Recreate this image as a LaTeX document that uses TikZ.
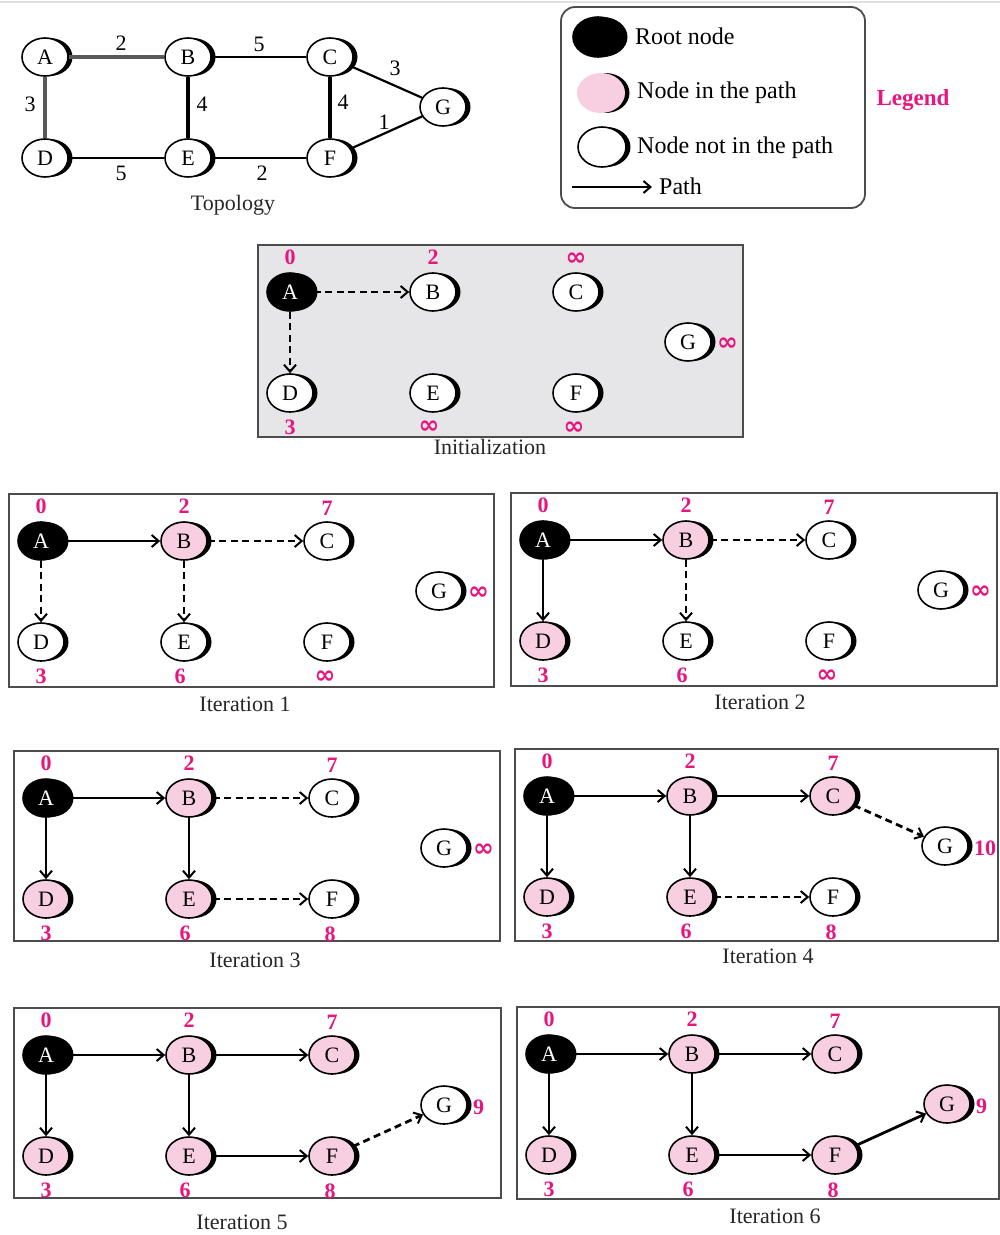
\documentclass[tikz,border=0pt]{standalone}
\usepackage{fontspec}
\setmainfont{Liberation Serif}
\newfontfamily\symfont{DejaVu Sans}
\usetikzlibrary{shapes.geometric,shadows,arrows.meta}

\definecolor{lblpink}{HTML}{E8157E}
\definecolor{pathpink}{HTML}{F7CFE0}
\definecolor{panelgray}{HTML}{E6E6E8}

\tikzset{
  vtx/.style={ellipse, draw=black, line width=1.6pt, minimum width=46pt,
    minimum height=38pt, inner sep=0pt, font=\fontsize{22}{24}\selectfont,
    drop shadow={shadow xshift=4.5pt, shadow yshift=0pt, fill=black, opacity=1}},
  wn/.style={vtx, fill=white},
  pn/.style={vtx, fill=pathpink},
  rn/.style={vtx, fill=black, text=white},
  lbl/.style={text=lblpink, inner sep=0pt, font=\fontsize{22}{24}\selectfont\bfseries},
  wt/.style={inner sep=0pt, font=\fontsize{22}{24}\selectfont},
  pathedge/.style={line width=2.8pt, -{Straight Barb[length=7pt,width=12pt,line width=2pt]}},
  cand/.style={pathedge, dash pattern=on 7pt off 4.5pt},
  frame/.style={draw=black!70, line width=2.4pt},
  caption/.style={inner sep=0pt, text=black!85, font=\fontsize{22}{24}\selectfont},
  legtext/.style={wt, anchor=west, font=\fontsize{24}{26}\selectfont},
}

% an unbounded distance, set in a heavier face
\newcommand\inftylabel{{\symfont\bfseries\fontsize{25}{26}\selectfont ∞}}

% the seven routers of one panel: prefix, then the style of A..G
\newcommand\sevennodes[8]{%
  \node[#2] (#1A) at (32,47) {A};
  \node[#3] (#1B) at (175,47) {B};
  \node[#4] (#1C) at (318,47) {C};
  \node[#5] (#1D) at (32,148) {D};
  \node[#6] (#1E) at (175,148) {E};
  \node[#7] (#1F) at (318,148) {F};
  \node[#8] (#1G) at (430,97) {G};
}
% the distance labels of one panel: prefix, then the values for A..G
\newcommand\distlabels[8]{%
  \node[lbl] (#1dA) at (32,12) {#2};
  \node[lbl] (#1dB) at (175,12) {#3};
  \node[lbl] (#1dC) at (318,14) {#4};
  \node[lbl] (#1dD) at (32,182) {#5};
  \node[lbl] (#1dE) at (171,182) {#6};
  \node[lbl] (#1dF) at (316,183) {#7};
  \node[lbl, anchor=west] (#1dG) at (459,99) {#8};
}

\begin{document}
\begin{tikzpicture}[x=1pt, y=-1pt]
\useasboundingbox (0,0) rectangle (1000,1235);
\fill[white] (0,0) rectangle (1000,1235);
\draw[black!12, line width=2pt] (0,2) -- (1000,2);

% ---------------- Topology ----------------
\node[wn] (tA) at (45,57) {A};
\node[wn] (tB) at (188,57) {B};
\node[wn] (tC) at (330,57) {C};
\node[wn] (tG) at (443,107) {G};
\node[wn] (tD) at (45,158) {D};
\node[wn] (tE) at (188,158) {E};
\node[wn] (tF) at (330,158) {F};
\draw[black!65, line width=3.5pt] (tA) -- (tB);
\draw[black!65, line width=3.5pt] (tA) -- (tD);
\draw[line width=1.8pt] (tB) -- (tC);
\draw[line width=3.5pt] (tB) -- (tE);
\draw[line width=3.5pt] (tC) -- (tF);
\draw[line width=2.4pt] (tD) -- (tE);
\draw[line width=2.4pt] (tE) -- (tF);
\draw[line width=2.2pt] (tC) -- (tG);
\draw[line width=2.2pt] (tF) -- (tG);
\node[wt] (wAB) at (121,43) {2};
\node[wt] (wBC) at (259,44) {5};
\node[wt] (wCG) at (395,68) {3};
\node[wt] (wAD) at (30,104) {3};
\node[wt] (wBE) at (202,104) {4};
\node[wt] (wCF) at (343,102) {4};
\node[wt] (wFG) at (384,122) {1};
\node[wt] (wDE) at (121,173) {5};
\node[wt] (wEF) at (262,173) {2};
\node[caption] (ttopo) at (233,205) {Topology};

% ---------------- Legend ----------------
\draw[draw=black!70, line width=1.8pt, rounded corners=14pt] (561,7) rectangle (865,208);
\node[rn, minimum width=50pt, minimum height=40pt] (kRoot) at (598,37) {};
\node[pn, draw=none, minimum width=48pt, minimum height=40pt] (kPath) at (601,93) {};
\node[wn, minimum width=48pt, minimum height=40pt] (kNot) at (602,147) {};
\node[legtext] (tRoot) at (635,36) {Root node};
\node[legtext] (tPath) at (637,93) {Node in the path};
\node[legtext] (tNot) at (637,148) {Node not in the path};
\coordinate (kArrS) at (572,187);
\coordinate (kArrE) at (652,187);
\draw[pathedge] (kArrS) -- (kArrE);
\node[legtext] (tArr) at (659,186) {Path};
\node[lbl, font=\fontsize{23}{26}\selectfont\bfseries] (tLegend) at (913,100) {Legend};

% ---------------- Initialization ----------------
\begin{scope}[shift={(258,245)}]
  \draw[frame, fill=panelgray] (0,0) rectangle (485,192);
  \sevennodes{z}{rn}{wn}{wn}{wn}{wn}{wn}{wn}
  \distlabels{z}{0}{2}{\inftylabel}{3}{\inftylabel}{\inftylabel}{\inftylabel}
  \draw[cand] (zA) -- (zB);
  \draw[cand] (zA) -- (zD);
  \node[caption] (capz) at (232,202) {Initialization};
\end{scope}

% ---------------- Iteration 1 ----------------
\begin{scope}[shift={(9,494)}]
  \draw[frame] (0,0) rectangle (485,193);
  \sevennodes{a}{rn}{pn}{wn}{wn}{wn}{wn}{wn}
  \distlabels{a}{0}{2}{7}{3}{6}{\inftylabel}{\inftylabel}
  \draw[pathedge] (aA) -- (aB);
  \draw[cand] (aB) -- (aC);
  \draw[cand] (aA) -- (aD);
  \draw[cand] (aB) -- (aE);
  \node[caption] (capa) at (236,210) {Iteration 1};
\end{scope}

% ---------------- Iteration 2 ----------------
\begin{scope}[shift={(511,493)}]
  \draw[frame] (0,0) rectangle (486,193);
  \sevennodes{b}{rn}{pn}{wn}{pn}{wn}{wn}{wn}
  \distlabels{b}{0}{2}{7}{3}{6}{\inftylabel}{\inftylabel}
  \draw[pathedge] (bA) -- (bB);
  \draw[cand] (bB) -- (bC);
  \draw[pathedge] (bA) -- (bD);
  \draw[cand] (bB) -- (bE);
  \node[caption] (capb) at (249,209) {Iteration 2};
\end{scope}

% ---------------- Iteration 3 ----------------
\begin{scope}[shift={(14,751)}]
  \draw[frame] (0,0) rectangle (486,190);
  \sevennodes{c}{rn}{pn}{wn}{pn}{pn}{wn}{wn}
  \distlabels{c}{0}{2}{7}{3}{6}{8}{\inftylabel}
  \draw[pathedge] (cA) -- (cB);
  \draw[cand] (cB) -- (cC);
  \draw[pathedge] (cA) -- (cD);
  \draw[pathedge] (cB) -- (cE);
  \draw[cand] (cE) -- (cF);
  \node[caption] (capc) at (241,209) {Iteration 3};
\end{scope}

% ---------------- Iteration 4 ----------------
\begin{scope}[shift={(515,749)}]
  \draw[frame] (0,0) rectangle (483,192);
  \sevennodes{d}{rn}{pn}{pn}{pn}{pn}{wn}{wn}
  \distlabels{d}{0}{2}{7}{3}{6}{8}{10}
  \draw[pathedge] (dA) -- (dB);
  \draw[pathedge] (dB) -- (dC);
  \draw[pathedge] (dA) -- (dD);
  \draw[pathedge] (dB) -- (dE);
  \draw[cand] (dE) -- (dF);
  \draw[cand] (dC) -- (dG);
  \node[caption] (capd) at (253,207) {Iteration 4};
\end{scope}

% ---------------- Iteration 5 ----------------
\begin{scope}[shift={(14,1008)}]
  \draw[frame] (0,0) rectangle (487,190);
  \sevennodes{e}{rn}{pn}{pn}{pn}{pn}{pn}{wn}
  \distlabels{e}{0}{2}{7}{3}{6}{8}{9}
  \draw[pathedge] (eA) -- (eB);
  \draw[pathedge] (eB) -- (eC);
  \draw[pathedge] (eA) -- (eD);
  \draw[pathedge] (eB) -- (eE);
  \draw[pathedge] (eE) -- (eF);
  \draw[cand] (eF) -- (eG);
  \node[caption] (cape) at (228,214) {Iteration 5};
\end{scope}

% ---------------- Iteration 6 ----------------
\begin{scope}[shift={(517,1007)}]
  \draw[frame] (0,0) rectangle (482,192);
  \sevennodes{f}{rn}{pn}{pn}{pn}{pn}{pn}{pn}
  \distlabels{f}{0}{2}{7}{3}{6}{8}{9}
  \draw[pathedge] (fA) -- (fB);
  \draw[pathedge] (fB) -- (fC);
  \draw[pathedge] (fA) -- (fD);
  \draw[pathedge] (fB) -- (fE);
  \draw[pathedge] (fE) -- (fF);
  \draw[pathedge] (fF) -- (fG);
  \node[caption] (capf) at (258,209) {Iteration 6};
\end{scope}
\end{tikzpicture}
\end{document}
